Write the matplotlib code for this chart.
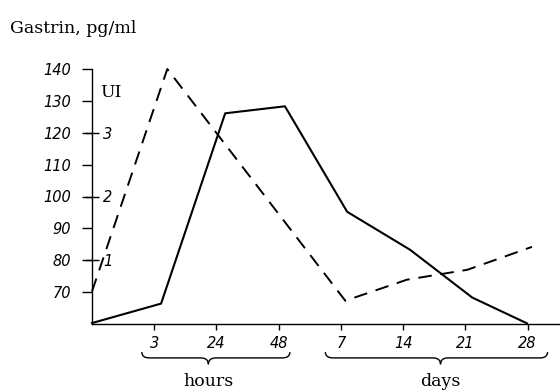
import numpy as np
import matplotlib
matplotlib.use("Agg")
import matplotlib.pyplot as plt
from matplotlib.path import Path
from matplotlib.patches import PathPatch

# time axis: evenly spaced slots (3, 24, 48 hours, then 7, 14, 21, 28 days)
tick_pos = [1, 2, 3, 4, 5, 6, 7]
tick_labels = ["3", "24", "48", "7", "14", "21", "28"]

# gastrin (solid) -- x in slot units
gastrin_x = [0.0, 1.11, 2.14, 3.10, 4.10, 5.11, 6.11, 6.99]
gastrin_y = [60.3, 66.4, 126.1, 128.3, 95.2, 83.3, 68.3, 60.2]

# UI (dashed), expressed on the gastrin scale
ui_x = [0.0, 1.21, 4.07, 5.06, 6.03, 7.07]
ui_y = [70.2, 140.0, 67.3, 73.9, 77.0, 84.2]

gastrin_ticks = [70, 80, 90, 100, 110, 120, 130, 140]
ui_ticks = [1, 2, 3]

groups = [("hours", 0.80, 3.18, 1.87), ("days", 3.75, 7.32, 5.6)]

fig = plt.figure(figsize=(5.6, 3.9), dpi=100)
ax = fig.add_axes([92 / 560, 66 / 390, 1 - 92 / 560, 255 / 390])

ax.plot(gastrin_x, gastrin_y, color="black", lw=1.5, clip_on=False)
ax.plot(ui_x, ui_y, color="black", lw=1.4, dashes=(7, 4.5), clip_on=False)

ax.set_xlim(0, 7.52)
ax.set_ylim(60, 140)
for s in ["top", "right"]:
    ax.spines[s].set_visible(False)
ax.spines["left"].set_linewidth(1.0)
ax.spines["bottom"].set_linewidth(1.0)

tick_font = dict(family="DejaVu Sans", style="italic", size=10.5)
ax.set_yticks(gastrin_ticks)
ax.set_yticklabels([str(v) for v in gastrin_ticks], **tick_font)
ax.tick_params(axis="y", length=7, width=1, pad=8)
ax.set_xticks(tick_pos)
ax.set_xticklabels(tick_labels, **tick_font)
ax.tick_params(axis="x", length=4, width=1, pad=5)

# UI scale sharing the left spine
ax2 = ax.twinx()
ax2.set_ylim(0, 4)
for s in ax2.spines.values():
    s.set_visible(False)
ax2.spines["right"].set_position(("axes", 0))
ax2.set_yticks(ui_ticks)
ax2.set_yticklabels([str(v) for v in ui_ticks], **tick_font)
ax2.tick_params(axis="y", direction="inout", length=10, width=1, pad=3)

fig.text(100 / 560, 1 - 97 / 390, "UI", family="DejaVu Serif", size=12.5, va="baseline")
fig.text(10 / 560, 1 - 33 / 390, "Gastrin, pg/ml", family="DejaVu Serif", size=12.5, va="baseline")

# braces under the time axis
trans = ax.get_xaxis_transform()
y_flat, y_up, y_tip = -0.133, -0.110, -0.158
d = 0.12
for name, x0, x1, xm in groups:
    verts = [(x0, y_up), (x0, y_flat), (x0 + d, y_flat),
             (xm - d, y_flat), (xm, y_flat), (xm, y_tip),
             (xm, y_flat), (xm + d, y_flat),
             (x1 - d, y_flat), (x1, y_flat), (x1, y_up)]
    codes = [Path.MOVETO, Path.CURVE3, Path.CURVE3,
             Path.LINETO, Path.CURVE3, Path.CURVE3,
             Path.CURVE3, Path.CURVE3,
             Path.LINETO, Path.CURVE3, Path.CURVE3]
    ax.add_patch(PathPatch(Path(verts, codes), transform=trans, fill=False,
                           lw=1.0, color="black", clip_on=False))
    ax.text(xm, -0.245, name, transform=trans, ha="center", va="baseline",
            family="DejaVu Serif", size=12.5)

fig.savefig("out.png", dpi=100)
